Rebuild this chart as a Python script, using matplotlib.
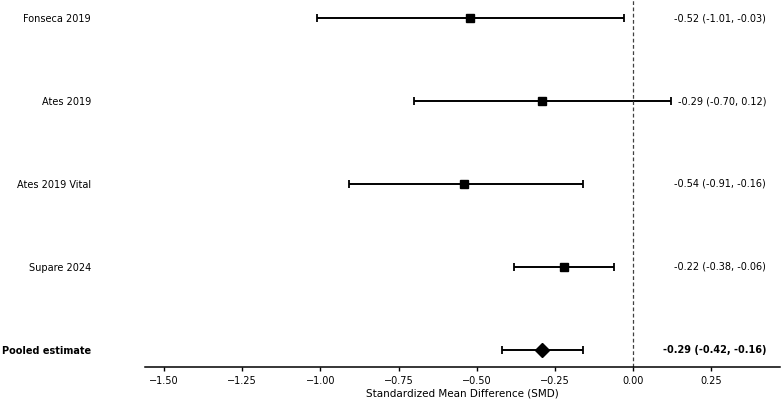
import matplotlib
matplotlib.use('Agg')
import matplotlib.pyplot as plt

# study estimates (SMD with 95% CI)
studies = ['Fonseca 2019', 'Ates 2019', 'Ates 2019 Vital', 'Supare 2024']
smd = [-0.52, -0.29, -0.54, -0.22]
ci_low = [-1.01, -0.70, -0.91, -0.38]
ci_high = [-0.03, 0.12, -0.16, -0.06]

# pooled result
pooled_label = 'Pooled estimate'
pooled_smd = -0.29
pooled_low = -0.42
pooled_high = -0.16

xticks = [-1.50, -1.25, -1.00, -0.75, -0.50, -0.25, 0.00, 0.25]


def main():
    fig = plt.figure(figsize=(7.82, 4.0), dpi=100)
    ax = fig.add_axes([145 / 782, 33 / 400, 635 / 782, 367 / 400])

    n = len(studies)
    ypos = list(range(n, 0, -1))

    # individual studies
    for y, m, lo, hi in zip(ypos, smd, ci_low, ci_high):
        ax.errorbar(m, y, xerr=[[m - lo], [hi - m]], fmt='s', color='black',
                    markersize=5.5, elinewidth=1.4, capsize=3, capthick=1.3)
        ax.text(0.978, y, f'{m:.2f} ({lo:.2f}, {hi:.2f})', ha='right', va='center',
                fontsize=7, transform=ax.get_yaxis_transform())

    # pooled
    ax.errorbar(pooled_smd, 0, xerr=[[pooled_smd - pooled_low], [pooled_high - pooled_smd]],
                fmt='D', color='black', markersize=7, elinewidth=1.4, capsize=3, capthick=1.3)
    ax.text(0.978, 0, f'{pooled_smd:.2f} ({pooled_low:.2f}, {pooled_high:.2f})', ha='right',
            va='center', fontsize=7, fontweight='bold', transform=ax.get_yaxis_transform())

    ax.axvline(0, color='0.25', linestyle=(0, (3, 2)), linewidth=0.9)

    ax.set_yticks(ypos + [0])
    ax.set_yticklabels(studies + [pooled_label], fontsize=7)
    ax.get_yticklabels()[-1].set_fontweight('bold')
    ax.tick_params(axis='y', length=0, pad=39)
    ax.set_xticks(xticks)
    ax.set_xticklabels([f'{t:.2f}'.replace('-', '\u2212') for t in xticks], fontsize=7)
    ax.tick_params(axis='x', length=3, width=1.0)

    ax.set_xlim(-1.561, 0.47)
    ax.set_ylim(-0.205, 4.217)
    for s in ['top', 'right', 'left']:
        ax.spines[s].set_visible(False)
    ax.spines['bottom'].set_linewidth(1.1)
    ax.set_xlabel('Standardized Mean Difference (SMD)', fontsize=7.5, labelpad=2)

    fig.savefig('out.png', dpi=100)


if __name__ == "__main__":
    main()
